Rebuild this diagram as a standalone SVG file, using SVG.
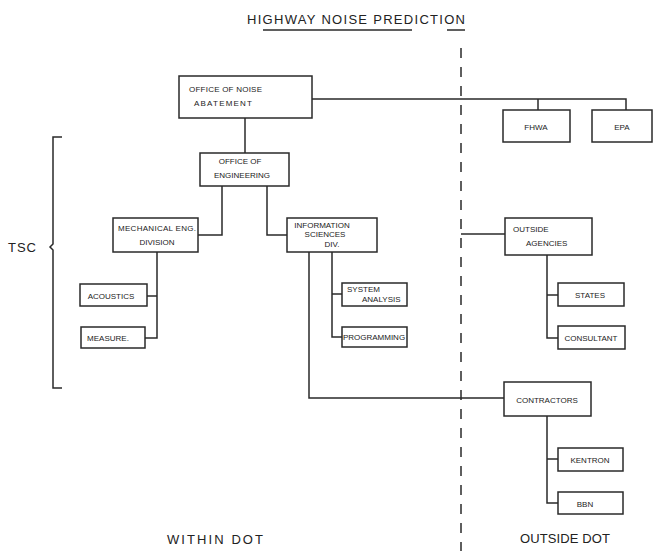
<svg xmlns="http://www.w3.org/2000/svg" width="655" height="551" viewBox="0 0 655 551">
<style>
.box{fill:none;stroke:#2a2a2a;stroke-width:1.5}
.ln{fill:none;stroke:#2a2a2a;stroke-width:1.5}
.t{font-family:"Liberation Sans",Arial,sans-serif;font-size:8px;fill:#222}
.m{text-anchor:middle}
.big{font-family:"Liberation Sans",Arial,sans-serif;font-size:13px;fill:#222}
</style>
<rect width="655" height="551" fill="#fff"/>
<g id="title">
<text class="big" x="247" y="24" textLength="218" lengthAdjust="spacing">HIGHWAY NOISE PREDICTION</text>
<line class="ln" x1="263" y1="30" x2="412" y2="30"/>
<line class="ln" x1="447" y1="30" x2="465" y2="30"/>
</g>
<g id="divider">
<line x1="461" y1="48" x2="461" y2="551" stroke="#2a2a2a" stroke-width="1.5" stroke-dasharray="10 9"/>
</g>
<g id="tsc">
<path class="ln" d="M62,137 H53 V244 L50,247 L53,250 V388 H62"/>
<text class="big" x="8" y="252" font-size="11" textLength="28" lengthAdjust="spacing">TSC</text>
</g>
<g id="connectors">
<path class="ln" d="M312,99 H626 V110"/>
<path class="ln" d="M538,99 V110"/>
<path class="ln" d="M245,118 V153"/>
<path class="ln" d="M222,186 V235 H198"/>
<path class="ln" d="M267,186 V235 H287"/>
<path class="ln" d="M157,252 V338 H145"/>
<path class="ln" d="M147,296 H157"/>
<path class="ln" d="M332,252 V337 H342"/>
<path class="ln" d="M332,294 H342"/>
<path class="ln" d="M309,252 V398 H504"/>
<path class="ln" d="M461,234 H505"/>
<path class="ln" d="M547,255 V338 H558"/>
<path class="ln" d="M547,295 H558"/>
<path class="ln" d="M547,416 V503 H558"/>
<path class="ln" d="M547,459 H558"/>
</g>
<g id="noise-abatement">
<rect class="box" x="179" y="76" width="133" height="42"/>
<text class="t" x="189" y="92" textLength="73" lengthAdjust="spacing">OFFICE OF NOISE</text>
<text class="t" x="194" y="106" textLength="58" lengthAdjust="spacing">ABATEMENT</text>
</g>
<g id="fhwa">
<rect class="box" x="503" y="110" width="67" height="32"/>
<text class="t m" x="536" y="130" font-size="9">FHWA</text>
</g>
<g id="epa">
<rect class="box" x="592" y="110" width="60" height="32"/>
<text class="t m" x="622" y="130" font-size="9">EPA</text>
</g>
<g id="engineering">
<rect class="box" x="200" y="153" width="89" height="33"/>
<text class="t m" x="240" y="164">OFFICE OF</text>
<text class="t m" x="242" y="178">ENGINEERING</text>
</g>
<g id="mechanical">
<rect class="box" x="113" y="218" width="85" height="34"/>
<text class="t m" x="157" y="231" font-size="7" textLength="78" lengthAdjust="spacing">MECHANICAL ENG.</text>
<text class="t m" x="157" y="245" font-size="7">DIVISION</text>
</g>
<g id="information">
<rect class="box" x="287" y="218" width="90" height="34"/>
<text class="t m" x="322" y="228" font-size="6.5">INFORMATION</text>
<text class="t m" x="325" y="237" font-size="6.5">SCIENCES</text>
<text class="t m" x="332" y="247" font-size="6.5">DIV.</text>
</g>
<g id="acoustics">
<rect class="box" x="80" y="284" width="67" height="22"/>
<text class="t m" x="111" y="299" font-size="7.5">ACOUSTICS</text>
</g>
<g id="measure">
<rect class="box" x="81" y="327" width="64" height="21"/>
<text class="t m" x="108" y="341" font-size="7">MEASURE.</text>
</g>
<g id="system-analysis">
<rect class="box" x="342" y="283" width="65" height="23"/>
<text class="t" x="347" y="292" font-size="6">SYSTEM</text>
<text class="t" x="362" y="302" font-size="6">ANALYSIS</text>
</g>
<g id="programming">
<rect class="box" x="342" y="327" width="65" height="20"/>
<text class="t m" x="374" y="340" font-size="6.5">PROGRAMMING</text>
</g>
<g id="outside-agencies">
<rect class="box" x="505" y="218" width="87" height="37"/>
<text class="t" x="513" y="232" font-size="8">OUTSIDE</text>
<text class="t" x="526" y="246" font-size="8">AGENCIES</text>
</g>
<g id="states">
<rect class="box" x="558" y="283" width="66" height="23"/>
<text class="t m" x="590" y="298" font-size="8.5">STATES</text>
</g>
<g id="consultant">
<rect class="box" x="558" y="326" width="67" height="23"/>
<text class="t m" x="591" y="341" font-size="7">CONSULTANT</text>
</g>
<g id="contractors">
<rect class="box" x="504" y="382" width="87" height="34"/>
<text class="t m" x="547" y="403" font-size="7.5">CONTRACTORS</text>
</g>
<g id="kentron">
<rect class="box" x="558" y="448" width="65" height="23"/>
<text class="t m" x="590" y="463">KENTRON</text>
</g>
<g id="bbn">
<rect class="box" x="558" y="492" width="65" height="22"/>
<text class="t m" x="585" y="507" font-size="8.5">BBN</text>
</g>
<g id="labels">
<text class="big" x="167" y="544" textLength="96" lengthAdjust="spacing">WITHIN DOT</text>
<text class="big" x="520" y="543" textLength="90" lengthAdjust="spacing">OUTSIDE DOT</text>
</g>
</svg>
